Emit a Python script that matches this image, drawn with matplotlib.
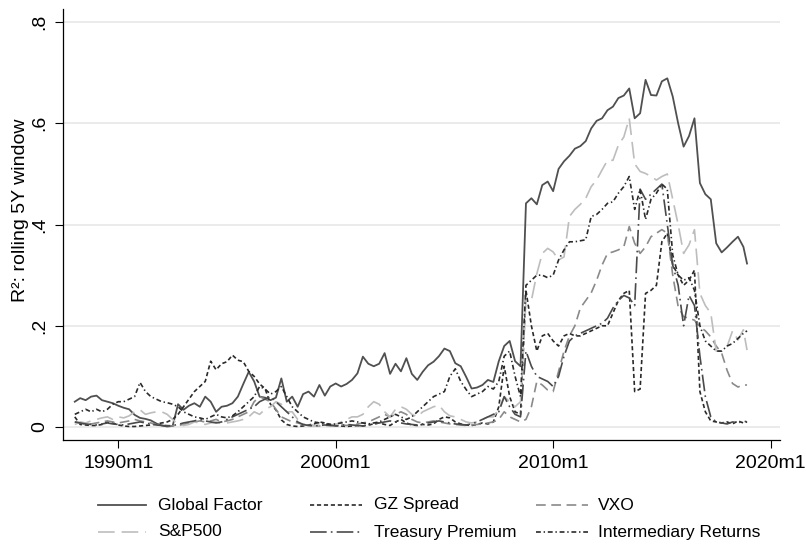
import numpy as np
import matplotlib
matplotlib.use("Agg")
import matplotlib.pyplot as plt
from matplotlib.lines import Line2D

plt.rcParams['font.family'] = ['Liberation Sans', 'DejaVu Sans']
plt.rcParams['lines.scale_dashes'] = False

# Stata monthly date index (months since 1960m1): quarterly 1988m1..2018m10, then 2018m12
months = np.append(np.arange(336, 706, 3), 707)

global_factor = [
    0.050, 0.057, 0.053, 0.060,
    0.062, 0.053, 0.050, 0.047,
    0.042, 0.038, 0.035, 0.024,
    0.018, 0.016, 0.013, 0.007,
    0.003, 0.001, 0.002, 0.045,
    0.034, 0.042, 0.047, 0.040,
    0.060, 0.050, 0.030, 0.040,
    0.042, 0.047, 0.060, 0.085,
    0.109, 0.090, 0.060, 0.058,
    0.053, 0.058, 0.096, 0.050,
    0.060, 0.040, 0.065, 0.070,
    0.060, 0.083, 0.062, 0.080,
    0.086, 0.080, 0.085, 0.093,
    0.106, 0.139, 0.125, 0.120,
    0.125, 0.146, 0.105, 0.125,
    0.110, 0.136, 0.105, 0.093,
    0.109, 0.122, 0.129, 0.140,
    0.155, 0.150, 0.126, 0.120,
    0.099, 0.076, 0.078, 0.083,
    0.093, 0.089, 0.130, 0.160,
    0.170, 0.130, 0.120, 0.442,
    0.452, 0.440, 0.478, 0.485,
    0.466, 0.510, 0.525, 0.536,
    0.550, 0.555, 0.565, 0.590,
    0.605, 0.610, 0.626, 0.633,
    0.650, 0.655, 0.669, 0.610,
    0.620, 0.686, 0.656, 0.655,
    0.683, 0.689, 0.653, 0.600,
    0.554, 0.575, 0.610, 0.482,
    0.460, 0.450, 0.363, 0.345,
    0.355, 0.366, 0.376, 0.356,
    0.323,
]

gz_spread = [
    0.020, 0.005, 0.004, 0.003,
    0.003, 0.005, 0.010, 0.008,
    0.004, 0.002, 0.001, 0.001,
    0.002, 0.003, 0.004, 0.006,
    0.008, 0.010, 0.015, 0.025,
    0.040, 0.055, 0.070, 0.080,
    0.090, 0.130, 0.113, 0.125,
    0.129, 0.142, 0.132, 0.129,
    0.110, 0.100, 0.085, 0.076,
    0.045, 0.034, 0.014, 0.005,
    0.002, 0.001, 0.002, 0.004,
    0.006, 0.010, 0.008, 0.005,
    0.003, 0.002, 0.001, 0.002,
    0.003, 0.002, 0.004, 0.006,
    0.008, 0.005, 0.003, 0.010,
    0.015, 0.008, 0.004, 0.003,
    0.005, 0.004, 0.006, 0.015,
    0.020, 0.018, 0.010, 0.006,
    0.004, 0.003, 0.005, 0.008,
    0.006, 0.010, 0.040, 0.120,
    0.060, 0.030, 0.025, 0.270,
    0.200, 0.150, 0.180, 0.185,
    0.170, 0.160, 0.180, 0.185,
    0.180, 0.180, 0.185, 0.190,
    0.195, 0.200, 0.200, 0.225,
    0.250, 0.264, 0.270, 0.070,
    0.075, 0.264, 0.270, 0.280,
    0.366, 0.383, 0.320, 0.300,
    0.280, 0.290, 0.310, 0.070,
    0.030, 0.012, 0.010, 0.008,
    0.010, 0.006, 0.012, 0.008,
    0.010,
]

vxo = [
    0.010, 0.008, 0.005, 0.006,
    0.008, 0.010, 0.012, 0.010,
    0.008, 0.010, 0.012, 0.015,
    0.012, 0.010, 0.008, 0.005,
    0.004, 0.003, 0.002, 0.003,
    0.005, 0.008, 0.010, 0.012,
    0.010, 0.012, 0.015, 0.010,
    0.012, 0.015, 0.020, 0.025,
    0.030, 0.050, 0.060, 0.055,
    0.050, 0.035, 0.020, 0.015,
    0.010, 0.008, 0.005, 0.004,
    0.003, 0.002, 0.003, 0.004,
    0.005, 0.004, 0.003, 0.005,
    0.006, 0.008, 0.010, 0.015,
    0.020, 0.025, 0.020, 0.025,
    0.030, 0.025, 0.015, 0.010,
    0.008, 0.010, 0.012, 0.010,
    0.008, 0.006, 0.005, 0.004,
    0.003, 0.004, 0.005, 0.006,
    0.008, 0.010, 0.015, 0.030,
    0.020, 0.015, 0.010, 0.015,
    0.040, 0.090, 0.083, 0.073,
    0.070, 0.110, 0.150, 0.180,
    0.200, 0.235, 0.250, 0.265,
    0.290, 0.320, 0.343, 0.346,
    0.350, 0.356, 0.396, 0.363,
    0.343, 0.356, 0.376, 0.383,
    0.390, 0.383, 0.300, 0.238,
    0.218, 0.215, 0.211, 0.198,
    0.190, 0.178, 0.160, 0.146,
    0.112, 0.086, 0.079, 0.083,
    0.083,
]

sp500 = [
    0.005, 0.010, 0.008, 0.012,
    0.015, 0.018, 0.020, 0.015,
    0.020, 0.018, 0.022, 0.030,
    0.034, 0.025, 0.028, 0.030,
    0.030, 0.025, 0.015, 0.005,
    0.003, 0.005, 0.010, 0.008,
    0.005, 0.008, 0.010, 0.006,
    0.008, 0.010, 0.012, 0.015,
    0.020, 0.030, 0.025, 0.035,
    0.040, 0.050, 0.045, 0.030,
    0.030, 0.015, 0.005, 0.003,
    0.002, 0.004, 0.003, 0.002,
    0.005, 0.010, 0.015, 0.020,
    0.020, 0.025, 0.040, 0.050,
    0.045, 0.030, 0.020, 0.035,
    0.040, 0.035, 0.025, 0.020,
    0.030, 0.035, 0.040, 0.043,
    0.030, 0.022, 0.020, 0.015,
    0.010, 0.008, 0.010, 0.015,
    0.020, 0.020, 0.035, 0.060,
    0.050, 0.040, 0.050, 0.250,
    0.250, 0.303, 0.343, 0.353,
    0.346, 0.330, 0.336, 0.416,
    0.430, 0.440, 0.452, 0.475,
    0.488, 0.508, 0.527, 0.527,
    0.557, 0.573, 0.610, 0.520,
    0.505, 0.501, 0.495, 0.488,
    0.495, 0.500, 0.450, 0.400,
    0.343, 0.360, 0.390, 0.264,
    0.240, 0.225, 0.150, 0.150,
    0.159, 0.190, 0.172, 0.192,
    0.152,
]

treasury_premium = [
    0.010, 0.008, 0.006, 0.005,
    0.004, 0.006, 0.008, 0.006,
    0.005, 0.004, 0.006, 0.008,
    0.010, 0.008, 0.006, 0.004,
    0.003, 0.002, 0.003, 0.005,
    0.008, 0.010, 0.012, 0.015,
    0.012, 0.010, 0.008, 0.010,
    0.015, 0.020, 0.025, 0.030,
    0.035, 0.040, 0.050, 0.055,
    0.060, 0.050, 0.040, 0.030,
    0.020, 0.010, 0.005, 0.003,
    0.002, 0.003, 0.004, 0.003,
    0.002, 0.003, 0.005, 0.004,
    0.003, 0.002, 0.004, 0.006,
    0.008, 0.010, 0.012, 0.010,
    0.008, 0.006, 0.005, 0.004,
    0.006, 0.008, 0.010, 0.012,
    0.010, 0.008, 0.006, 0.005,
    0.004, 0.006, 0.010, 0.015,
    0.020, 0.025, 0.030, 0.060,
    0.040, 0.025, 0.020, 0.150,
    0.120, 0.100, 0.095, 0.090,
    0.080, 0.100, 0.140, 0.170,
    0.180, 0.185, 0.190, 0.195,
    0.200, 0.205, 0.215, 0.235,
    0.250, 0.260, 0.255, 0.240,
    0.470, 0.450, 0.460, 0.470,
    0.480, 0.400, 0.320, 0.280,
    0.200, 0.260, 0.240, 0.140,
    0.060, 0.020, 0.010, 0.008,
    0.006, 0.010, 0.008, 0.012,
    0.010,
]

intermediary_returns = [
    0.025, 0.030, 0.035, 0.030,
    0.035, 0.030, 0.035, 0.045,
    0.050, 0.050, 0.055, 0.060,
    0.088, 0.070, 0.060, 0.055,
    0.050, 0.048, 0.045, 0.040,
    0.030, 0.025, 0.020, 0.018,
    0.015, 0.020, 0.025, 0.020,
    0.018, 0.022, 0.030, 0.040,
    0.050, 0.060, 0.080, 0.075,
    0.065, 0.070, 0.080, 0.060,
    0.040, 0.030, 0.020, 0.015,
    0.010, 0.008, 0.006, 0.005,
    0.006, 0.008, 0.010, 0.012,
    0.010, 0.008, 0.006, 0.008,
    0.010, 0.015, 0.020, 0.025,
    0.020, 0.015, 0.020, 0.030,
    0.040, 0.050, 0.060, 0.065,
    0.070, 0.100, 0.115, 0.090,
    0.074, 0.060, 0.065, 0.070,
    0.080, 0.075, 0.090, 0.140,
    0.150, 0.100, 0.060, 0.280,
    0.290, 0.300, 0.300, 0.295,
    0.300, 0.330, 0.350, 0.366,
    0.366, 0.368, 0.370, 0.416,
    0.420, 0.430, 0.442, 0.445,
    0.462, 0.475, 0.495, 0.430,
    0.470, 0.410, 0.450, 0.462,
    0.480, 0.470, 0.340, 0.300,
    0.290, 0.295, 0.270, 0.200,
    0.170, 0.160, 0.150, 0.150,
    0.160, 0.165, 0.175, 0.185,
    0.190,
]

series_labels = ["Global Factor", "GZ Spread", "VXO",
                 "S&P500", "Treasury Premium", "Intermediary Returns"]
tick_months = [360, 480, 600, 720]
tick_labels = ["1990m1", "2000m1", "2010m1", "2020m1"]
y_ticks = [0, 0.2, 0.4, 0.6, 0.8]
y_tick_labels = ["0", ".2", ".4", ".6", ".8"]

styles = [
    dict(color="#505050", lw=1.3, ls="-"),
    dict(color="#2a2a2a", lw=1.2, ls=(0, (3.0, 2.0))),
    dict(color="#8a8a8a", lw=1.2, ls=(0, (7.0, 4.0))),
    dict(color="#bdbdbd", lw=1.2, ls=(0, (12.0, 5.0))),
    dict(color="#4a4a4a", lw=1.2, ls=(0, (12.0, 3.0, 1.2, 3.0))),
    dict(color="#2a2a2a", lw=1.2, ls=(0, (3.5, 2.0, 1.0, 2.0))),
]
data = [global_factor, gz_spread, vxo, sp500, treasury_premium, intermediary_returns]

W, H = 806, 548
fig = plt.figure(figsize=(W / 100, H / 100), dpi=100)
fig.patch.set_facecolor("white")


def fx(px):
    return px / W


def fy(py):
    return 1 - py / H


ax = fig.add_axes([fx(63), fy(440), fx(780) - fx(63), fy(9) - fy(440)])
ax.set_facecolor("white")

for vals, st in zip(data, styles):
    ax.plot(months, vals, color=st["color"], lw=st["lw"], linestyle=st["ls"],
            solid_joinstyle="round", dash_joinstyle="round", zorder=3)

ax.set_xlim(329.5, 725.2)
ax.set_ylim(-0.0257, 0.826)

ax.set_yticks(y_ticks)
ax.set_yticklabels(y_tick_labels, rotation=90, va="center", fontsize=14)
ax.set_xticks(tick_months)
ax.set_xticklabels(tick_labels, fontsize=14)

ax.yaxis.grid(True, color="#e8e8e8", lw=1.2, zorder=0)
ax.xaxis.grid(False)
ax.set_axisbelow(True)

for side in ("top", "right"):
    ax.spines[side].set_visible(False)
for side in ("left", "bottom"):
    ax.spines[side].set_color("black")
    ax.spines[side].set_linewidth(0.9)

ax.tick_params(axis="both", direction="out", length=5.8, width=0.8, color="black")
ax.tick_params(axis="y", pad=5)
ax.tick_params(axis="x", pad=5)

fig.text(fx(21), fy(210), "R²: rolling 5Y window", rotation=90,
         ha="center", va="center", fontsize=14)

# legend: 2 rows x 3 columns below the plot
key_x = [(98, 146), (310, 362), (536, 588)]
text_x = [158, 374, 598]
row_y = [505, 532]
for i, (lab, st) in enumerate(zip(series_labels, styles)):
    r, c = divmod(i, 3)
    x0, x1 = key_x[c]
    fig.add_artist(Line2D([fx(x0), fx(x1)], [fy(row_y[r]), fy(row_y[r])],
                          transform=fig.transFigure, color=st["color"],
                          lw=st["lw"], linestyle=st["ls"]))
    fig.text(fx(text_x[c]), fy(row_y[r]), lab, ha="left", va="center", fontsize=12.5)

fig.savefig("out.png", dpi=100, facecolor="white")
